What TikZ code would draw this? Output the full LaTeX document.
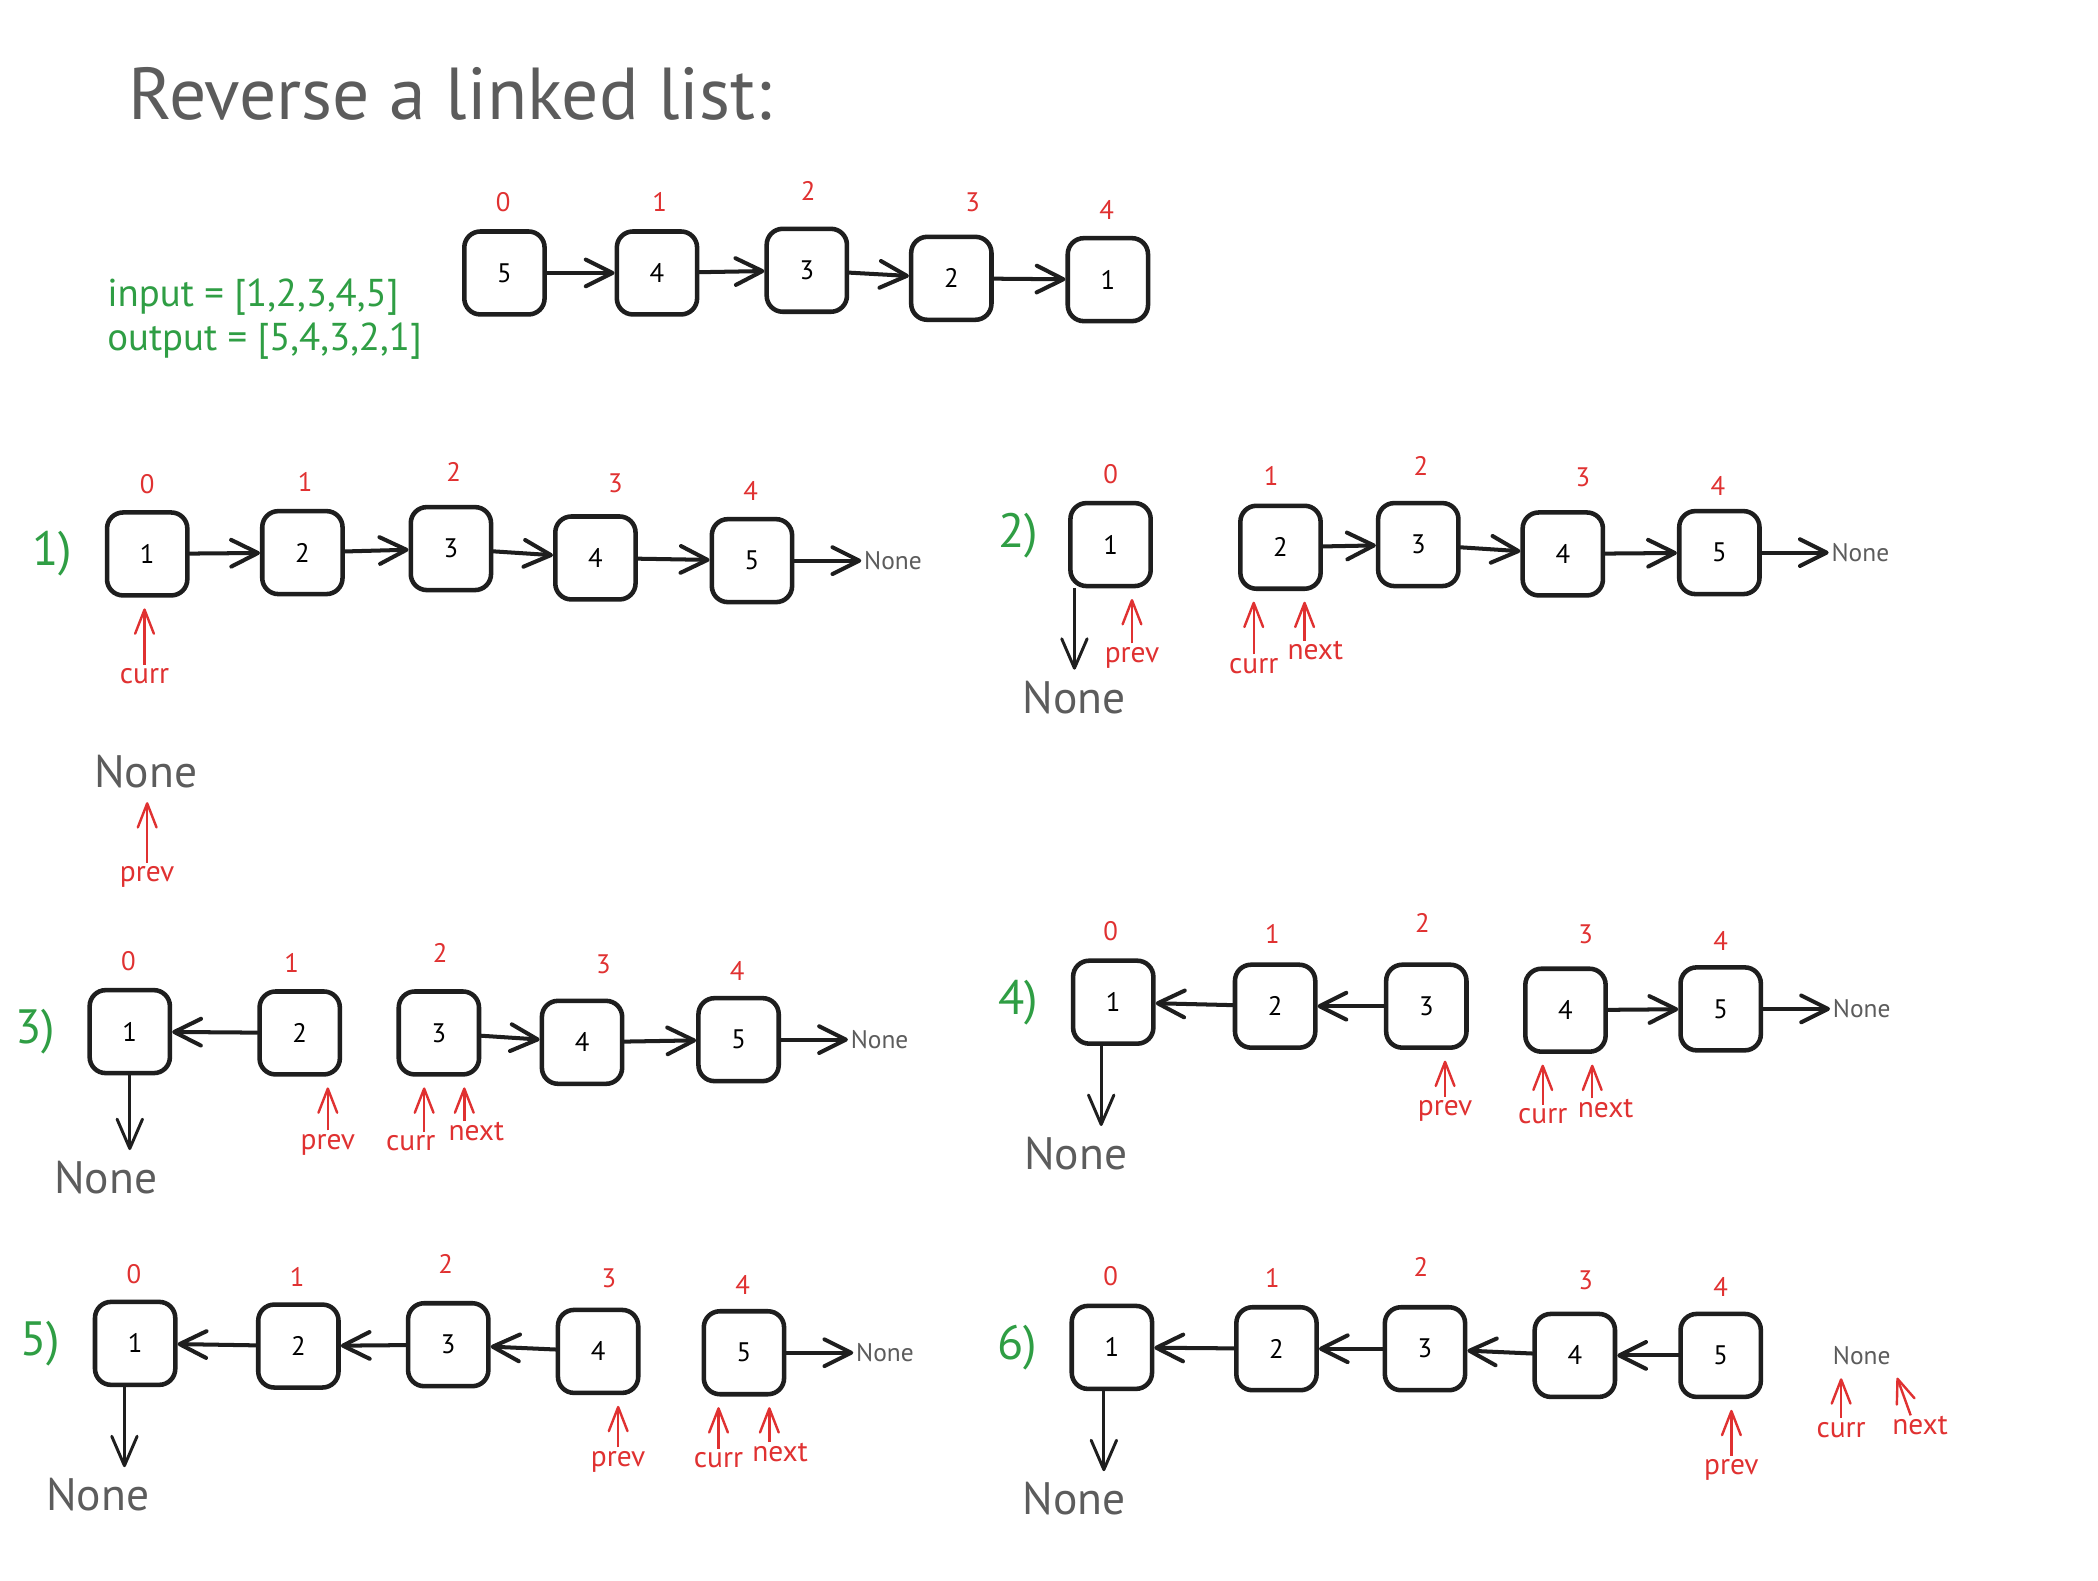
\documentclass[tikz,border=0pt]{standalone}
\usepackage{fontspec}
\setmainfont{PT Sans}
\usetikzlibrary{arrows.meta}
\usetikzlibrary{positioning}
\definecolor{ink}{HTML}{1E1E1E}
\definecolor{inkred}{HTML}{E03131}
\definecolor{inkgreen}{HTML}{2F9E44}
\definecolor{inkgray}{HTML}{5C5C5C}
\tikzset {
  % one cell of the list
  cell/.style = {
    draw = ink,
    line width = 3.4pt,
    rounded corners = 12pt,
    minimum width = 60pt,
    minimum height = 62pt,
    inner sep = 0pt,
    font = \fontsize{20}{24}\selectfont
  },
  % index above a cell
  idx/.style = {
    text = inkred,
    inner sep = 1pt,
    font = \fontsize{20}{24}\selectfont
  },
  % curr, prev and next
  ptr label/.style = {
    text = inkred,
    inner sep = 3pt,
    text height = 11pt,
    text depth = 3pt,
    font = \fontsize{22}{26}\selectfont
  },
  % None under the list
  nil/.style = {
    text = inkgray,
    inner sep = 2pt,
    font = \fontsize{34}{40}\selectfont
  },
  % None after the last cell
  end nil/.style = {
    text = inkgray,
    inner sep = 2pt,
    font = \fontsize{19}{22}\selectfont
  },
  step label/.style = {
    text = inkgreen,
    inner sep = 2pt,
    font = \fontsize{36}{40}\selectfont
  },
  title/.style = {
    text = inkgray,
    inner sep = 0pt,
    font = \fontsize{55}{62}\selectfont
  },
  io text/.style = {
    text = inkgreen,
    inner sep = 0pt,
    font = \fontsize{29}{34}\selectfont
  }
}
\tikzset {
  % arrow between cells
  link/.style = {
    draw = ink,
    line width = 3pt,
    line cap = round,
    -{Straight Barb[length=20pt, width=20pt, round]}
  },
  % arrow from the first cell down to None
  down/.style = {
    draw = ink,
    line width = 2.2pt,
    shorten >= 6pt,
    -{Straight Barb[length=22pt, width=19pt, round]}
  },
  % pointer arrow
  ptr/.style = {
    draw = inkred,
    line width = 1.8pt,
    shorten >= 8pt,
    -{Straight Barb[length=18pt, width=14pt, round]}
  }
}

\begin{document}
\begin{tikzpicture}[x=1pt, y=-1pt]
    \path[use as bounding box, fill=white] (0,0) rectangle (1568,1181);

    \node[title] (title) [anchor=west] at (96,70) {Reverse a linked list:};
    \node[io text] (input) [anchor=west] at (80,222) {input = [1,2,3,4,5]};
    \node[io text] (output) [anchor=west] at (80,255) {output = [5,4,3,2,1]};

    % input list
    \node[cell] (in-1) at (377,204) {5};
    \node[cell] (in-2) at (491,204) {4};
    \node[cell] (in-3) at (603,202) {3};
    \node[cell] (in-4) at (711,208) {2};
    \node[cell] (in-5) at (828,209) {1};
    \node[idx] (in-i0) at (376,151) {0};
    \node[idx] (in-i1) at (493,151) {1};
    \node[idx] (in-i2) at (604,143) {2};
    \node[idx] (in-i3) at (727,151) {3};
    \node[idx] (in-i4) at (827,157) {4};
    \draw[link] (in-1) -- (in-2);
    \draw[link] (in-2) -- (in-3);
    \draw[link] (in-3) -- (in-4);
    \draw[link] (in-4) -- (in-5);

    % step 1
    \node[cell] (s1-1) at (110,414) {1};
    \node[cell] (s1-2) at (226,413) {2};
    \node[cell] (s1-3) at (337,410) {3};
    \node[cell] (s1-4) at (445,417) {4};
    \node[cell] (s1-5) at (562,419) {5};
    \node[step label] (s1-label) [left=22pt of s1-1] {1)};
    \node[end nil] (s1-end) [right=50pt of s1-5] {None};
    \node[idx] (s1-i0) at (110,362) {0};
    \node[idx] (s1-i1) at (228,360) {1};
    \node[idx] (s1-i2) at (339,353) {2};
    \node[idx] (s1-i3) at (460,361) {3};
    \node[idx] (s1-i4) at (561,367) {4};
    \node[ptr label] (s1-curr) at (108,507) {curr};
    \node[nil] (s1-none) at (109,577) {None};
    \node[ptr label] (s1-prev) at (110,655) {prev};
    \draw[link] (s1-1) -- (s1-2);
    \draw[link] (s1-2) -- (s1-3);
    \draw[link] (s1-3) -- (s1-4);
    \draw[link] (s1-4) -- (s1-5);
    \draw[link] (s1-5) -- (s1-end);
    \draw[ptr] (s1-curr.north) -- (s1-curr.north |- s1-1.south);
    \draw[ptr] (s1-prev.north) -- (s1-prev.north |- s1-none.south);

    % step 2
    \node[cell] (s2-1) at (830,407) {1};
    \node[cell] (s2-2) at (957,409) {2};
    \node[cell] (s2-3) at (1060,407) {3};
    \node[cell] (s2-4) at (1168,414) {4};
    \node[cell] (s2-5) at (1285,413) {5};
    \node[step label] (s2-label) [left=20pt of s2-1, yshift=7pt] {2)};
    \node[end nil] (s2-end) [right=50pt of s2-5] {None};
    \node[idx] (s2-i0) at (830,354) {0};
    \node[idx] (s2-i1) at (950,356) {1};
    \node[idx] (s2-i2) at (1062,348) {2};
    \node[idx] (s2-i3) at (1183,357) {3};
    \node[idx] (s2-i4) at (1284,363) {4};
    \node[nil] (s2-none) at (803,521) {None};
    \node[ptr label] (s2-prev) at (846,491) {prev};
    \node[ptr label] (s2-curr) at (937,499) {curr};
    \node[ptr label] (s2-next) at (983,489) {next};
    \coordinate (s2-drop) at ([xshift=-27pt]s2-1.south);
    \coordinate (s2-next-tail) at ([xshift=-8pt]s2-next.north);
    \draw[link] (s2-2) -- (s2-3);
    \draw[link] (s2-3) -- (s2-4);
    \draw[link] (s2-4) -- (s2-5);
    \draw[link] (s2-5) -- (s2-end);
    \draw[down] (s2-drop) -- (s2-drop |- s2-none.north);
    \draw[ptr] (s2-prev.north) -- (s2-prev.north |- s2-1.south);
    \draw[ptr] (s2-curr.north) -- (s2-curr.north |- s2-2.south);
    \draw[ptr] (s2-next-tail) -- (s2-next-tail |- s2-2.south);

    % step 3
    \node[cell] (s3-1) at (97,771) {1};
    \node[cell] (s3-2) at (224,772) {2};
    \node[cell] (s3-3) at (328,772) {3};
    \node[cell] (s3-4) at (435,779) {4};
    \node[cell] (s3-5) at (552,777) {5};
    \node[step label] (s3-label) [left=22pt of s3-1] {3)};
    \node[end nil] (s3-end) [right=50pt of s3-5] {None};
    \node[idx] (s3-i0) at (96,718) {0};
    \node[idx] (s3-i1) at (218,720) {1};
    \node[idx] (s3-i2) at (329,712) {2};
    \node[idx] (s3-i3) at (451,721) {3};
    \node[idx] (s3-i4) at (551,726) {4};
    \node[nil] (s3-none) at (79,880) {None};
    \node[ptr label] (s3-prev) at (245,855) {prev};
    \node[ptr label] (s3-curr) at (307,856) {curr};
    \node[ptr label] (s3-next) at (356,848) {next};
    \coordinate (s3-curr-tail) at ([xshift=10pt]s3-curr.north);
    \coordinate (s3-next-tail) at ([xshift=-9pt]s3-next.north);
    \draw[link] (s3-2) -- (s3-1);
    \draw[link] (s3-3) -- (s3-4);
    \draw[link] (s3-4) -- (s3-5);
    \draw[link] (s3-5) -- (s3-end);
    \draw[down] (s3-1) -- (s3-1 |- s3-none.north);
    \draw[ptr] (s3-prev.north) -- (s3-prev.north |- s3-2.south);
    \draw[ptr] (s3-curr-tail) -- (s3-curr-tail |- s3-3.south);
    \draw[ptr] (s3-next-tail) -- (s3-next-tail |- s3-3.south);

    % step 4
    \node[cell] (s4-1) at (832,749) {1};
    \node[cell] (s4-2) at (953,752) {2};
    \node[cell] (s4-3) at (1066,752) {3};
    \node[cell] (s4-4) at (1170,755) {4};
    \node[cell] (s4-5) at (1286,754) {5};
    \node[step label] (s4-label) [left=22pt of s4-1] {4)};
    \node[end nil] (s4-end) [right=50pt of s4-5] {None};
    \node[idx] (s4-i0) at (830,696) {0};
    \node[idx] (s4-i1) at (951,698) {1};
    \node[idx] (s4-i2) at (1063,690) {2};
    \node[idx] (s4-i3) at (1185,698) {3};
    \node[idx] (s4-i4) at (1286,703) {4};
    \node[nil] (s4-none) at (804,862) {None};
    \node[ptr label] (s4-prev) at (1080,830) {prev};
    \node[ptr label] (s4-curr) at (1153,836) {curr};
    \node[ptr label] (s4-next) at (1200,831) {next};
    \coordinate (s4-drop) at ([xshift=-9pt]s4-1.south);
    \coordinate (s4-next-tail) at ([xshift=-10pt]s4-next.north);
    \draw[link] (s4-2) -- (s4-1);
    \draw[link] (s4-3) -- (s4-2);
    \draw[link] (s4-4) -- (s4-5);
    \draw[link] (s4-5) -- (s4-end);
    \draw[down] (s4-drop) -- (s4-drop |- s4-none.north);
    \draw[ptr] (s4-prev.north) -- (s4-prev.north |- s4-3.south);
    \draw[ptr] (s4-curr.north) -- (s4-curr.north |- s4-4.south);
    \draw[ptr] (s4-next-tail) -- (s4-next-tail |- s4-4.south);

    % step 5
    \node[cell] (s5-1) at (101,1004) {1};
    \node[cell] (s5-2) at (223,1006) {2};
    \node[cell] (s5-3) at (335,1005) {3};
    \node[cell] (s5-4) at (447,1010) {4};
    \node[cell] (s5-5) at (556,1011) {5};
    \node[step label] (s5-label) [left=22pt of s5-1] {5)};
    \node[end nil] (s5-end) [right=50pt of s5-5] {None};
    \node[idx] (s5-i0) at (100,952) {0};
    \node[idx] (s5-i1) at (222,954) {1};
    \node[idx] (s5-i2) at (333,945) {2};
    \node[idx] (s5-i3) at (455,955) {3};
    \node[idx] (s5-i4) at (555,960) {4};
    \node[nil] (s5-none) at (73,1117) {None};
    \node[ptr label] (s5-prev) at (462,1092) {prev};
    \node[ptr label] (s5-curr) at (537,1093) {curr};
    \node[ptr label] (s5-next) at (583,1088) {next};
    \coordinate (s5-drop) at ([xshift=-8pt]s5-1.south);
    \coordinate (s5-next-tail) at ([xshift=-8pt]s5-next.north);
    \draw[link] (s5-2) -- (s5-1);
    \draw[link] (s5-3) -- (s5-2);
    \draw[link] (s5-4) -- (s5-3);
    \draw[link] (s5-5) -- (s5-end);
    \draw[down] (s5-drop) -- (s5-drop |- s5-none.north);
    \draw[ptr] (s5-prev.north) -- (s5-prev.north |- s5-4.south);
    \draw[ptr] (s5-curr.north) -- (s5-curr.north |- s5-5.south);
    \draw[ptr] (s5-next-tail) -- (s5-next-tail |- s5-5.south);

    % step 6
    \node[cell] (s6-1) at (831,1007) {1};
    \node[cell] (s6-2) at (954,1008) {2};
    \node[cell] (s6-3) at (1065,1008) {3};
    \node[cell] (s6-4) at (1177,1013) {4};
    \node[cell] (s6-5) at (1286,1013) {5};
    \node[step label] (s6-label) [left=22pt of s6-1] {6)};
    \node[end nil] (s6-end) [right=50pt of s6-5] {None};
    \node[idx] (s6-i0) at (830,954) {0};
    \node[idx] (s6-i1) at (951,955) {1};
    \node[idx] (s6-i2) at (1062,947) {2};
    \node[idx] (s6-i3) at (1185,957) {3};
    \node[idx] (s6-i4) at (1286,962) {4};
    \node[nil] (s6-none) at (803,1120) {None};
    \node[ptr label] (s6-prev) at (1294,1098) {prev};
    \node[ptr label] (s6-curr) at (1376,1070) {curr};
    \node[ptr label] (s6-next) at (1435,1068) {next};
    \coordinate (s6-drop) at ([xshift=-6pt]s6-1.south);
    \coordinate (s6-next-tail) at ([xshift=-7pt]s6-next.north);
    \draw[link] (s6-2) -- (s6-1);
    \draw[link] (s6-3) -- (s6-2);
    \draw[link] (s6-4) -- (s6-3);
    \draw[link] (s6-5) -- (s6-4);
    \draw[down] (s6-drop) -- (s6-drop |- s6-none.north);
    \draw[ptr] (s6-prev.north) -- (s6-prev.north |- s6-5.south);
    \draw[ptr] (s6-curr.north) -- (s6-curr.north |- s6-end.south);
    \draw[ptr] (s6-next-tail) -- (s6-end.south east);
\end{tikzpicture}
\end{document}
